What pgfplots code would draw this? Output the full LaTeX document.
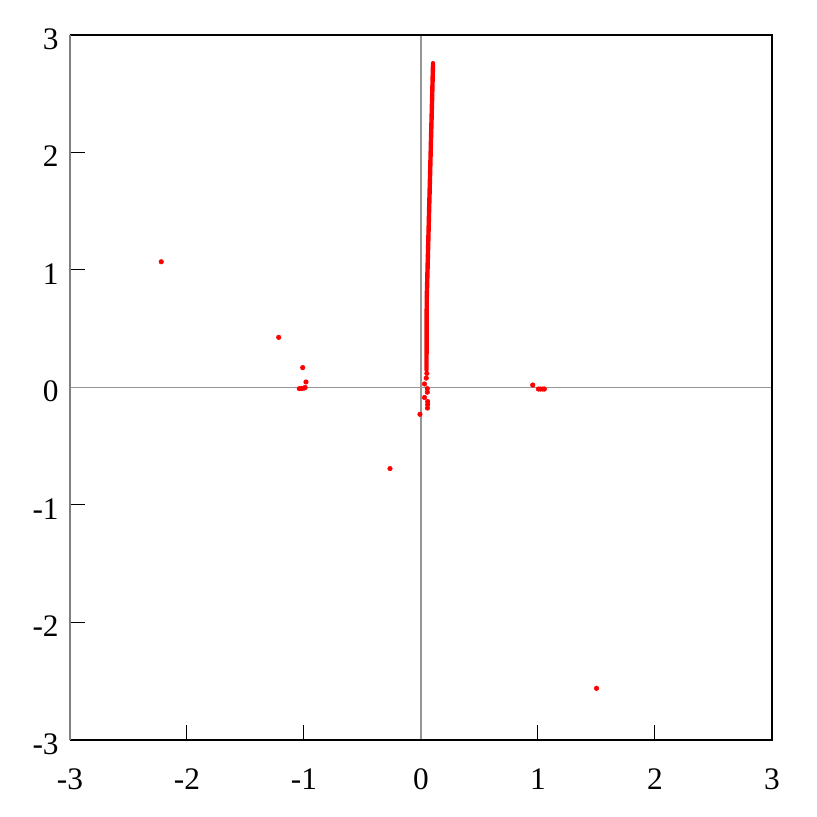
\documentclass[border=0pt]{standalone}
\usepackage{pgfplots}
\pgfplotsset{compat=1.18}
\usepackage{fontspec}
\setmainfont{Liberation Serif}
\definecolor{zerogray}{RGB}{150,150,150}
\definecolor{leftgray}{RGB}{128,128,128}
\begin{document}
\begin{tikzpicture}
\path[use as bounding box] (-52.5pt,-57.75pt) rectangle (560.25pt,555pt);
\begin{axis}[
  at={(0pt,0pt)}, anchor=south west,
  scale only axis, width=526.5pt, height=528.75pt,
  xmin=-3, xmax=3, ymin=-3, ymax=3,
  xtick={-3,-2,-1,0,1,2,3}, ytick={-3,-2,-1,0,1,2,3},
  xticklabels={-3,-2,-1,0,1,2,3}, yticklabels={-3,-2,-1,0,1,2,3},
  xtick pos=left, ytick pos=left,
  tick align=inside,
  major tick length=11pt,
  tick style={black, line width=0.75pt},
  axis line style={draw=none},
  ticklabel style={font=\fontsize{23.5pt}{28pt}\selectfont},
  xticklabel style={yshift=-18pt},
  yticklabel style={xshift=-5pt, yshift=-3pt},
  clip=false,
]
% zero lines
\draw[zerogray, line width=1pt] (axis cs:-3,0) -- (axis cs:3,0);
\draw[zerogray, line width=1pt] (axis cs:0,-3) -- (axis cs:0,3);
% frame
\draw[black, line width=0.9pt] (axis cs:-3,-3) -- (axis cs:3,-3) -- (axis cs:3,3) -- (axis cs:-3,3);
\draw[leftgray, line width=0.9pt] (axis cs:-3,-3) -- (axis cs:-3,3);
% dense line of points
\addplot[red, line width=3.3pt, line cap=round] coordinates {(0.047,0.15) (0.049,0.75) (0.103,2.76)};
% scattered points
\addplot[only marks, mark=*, mark size=1.7pt, red, draw=red, fill=red] coordinates {
(-2.22,1.07)
(-1.216,0.427)
(-1.011,0.169)
(-0.983,0.047)
(-1.04,-0.01) (-1.02,-0.008) (-1.00,-0.005) (-0.99,0.0)
(-0.265,-0.69)
(-0.009,-0.228)
(0.03,0.03) (0.054,-0.01) (0.054,-0.04) (0.03,-0.085)
(0.057,-0.12) (0.057,-0.145) (0.055,-0.175)
(0.045,0.08) (0.05,0.12)
(0.955,0.021)
(1.003,-0.013) (1.02,-0.013) (1.04,-0.013) (1.054,-0.013)
(1.50,-2.56)
};
\end{axis}
\end{tikzpicture}
\end{document}
